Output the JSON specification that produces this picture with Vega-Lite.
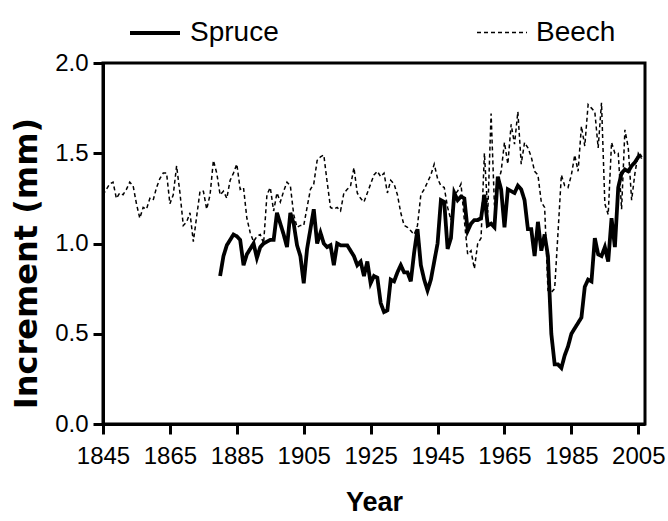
{
"$schema": "https://vega.github.io/schema/vega-lite/v6.json",
"width": 542, "height": 361,
"autosize": "none",
"padding": {"left": 103, "top": 63, "right": 23, "bottom": 97},
"background": "white",
"config": {"view": {"stroke": "black", "strokeWidth": 3}, "font": "Liberation Sans"},
"data": {"values": [
{"year":1845,"species":"Beech","increment":1.27},{"year":1846,"species":"Beech","increment":1.30},{"year":1847,"species":"Beech","increment":1.33},{"year":1848,"species":"Beech","increment":1.34},{"year":1849,"species":"Beech","increment":1.25},{"year":1850,"species":"Beech","increment":1.28},{"year":1851,"species":"Beech","increment":1.27},{"year":1852,"species":"Beech","increment":1.30},{"year":1853,"species":"Beech","increment":1.34},{"year":1854,"species":"Beech","increment":1.32},{"year":1855,"species":"Beech","increment":1.22},{"year":1856,"species":"Beech","increment":1.14},{"year":1857,"species":"Beech","increment":1.20},{"year":1858,"species":"Beech","increment":1.19},{"year":1859,"species":"Beech","increment":1.25},{"year":1860,"species":"Beech","increment":1.24},{"year":1861,"species":"Beech","increment":1.31},{"year":1862,"species":"Beech","increment":1.36},{"year":1863,"species":"Beech","increment":1.39},{"year":1864,"species":"Beech","increment":1.39},{"year":1865,"species":"Beech","increment":1.22},{"year":1866,"species":"Beech","increment":1.27},{"year":1867,"species":"Beech","increment":1.43},{"year":1868,"species":"Beech","increment":1.28},{"year":1869,"species":"Beech","increment":1.10},{"year":1870,"species":"Beech","increment":1.12},{"year":1871,"species":"Beech","increment":1.17},{"year":1872,"species":"Beech","increment":1.01},{"year":1873,"species":"Beech","increment":1.15},{"year":1874,"species":"Beech","increment":1.29},{"year":1875,"species":"Beech","increment":1.29},{"year":1876,"species":"Beech","increment":1.19},{"year":1877,"species":"Beech","increment":1.27},{"year":1878,"species":"Beech","increment":1.46},{"year":1879,"species":"Beech","increment":1.39},{"year":1880,"species":"Beech","increment":1.27},{"year":1881,"species":"Beech","increment":1.29},{"year":1882,"species":"Beech","increment":1.25},{"year":1883,"species":"Beech","increment":1.35},{"year":1884,"species":"Beech","increment":1.39},{"year":1885,"species":"Beech","increment":1.44},{"year":1886,"species":"Beech","increment":1.30},{"year":1887,"species":"Beech","increment":1.31},{"year":1888,"species":"Beech","increment":1.14},{"year":1889,"species":"Beech","increment":1.06},{"year":1890,"species":"Beech","increment":1.01},{"year":1891,"species":"Beech","increment":1.04},{"year":1892,"species":"Beech","increment":1.05},{"year":1893,"species":"Beech","increment":1.00},{"year":1894,"species":"Beech","increment":1.27},{"year":1895,"species":"Beech","increment":1.31},{"year":1896,"species":"Beech","increment":1.18},{"year":1897,"species":"Beech","increment":1.28},{"year":1898,"species":"Beech","increment":1.23},{"year":1899,"species":"Beech","increment":1.29},{"year":1900,"species":"Beech","increment":1.34},{"year":1901,"species":"Beech","increment":1.32},{"year":1902,"species":"Beech","increment":1.16},{"year":1903,"species":"Beech","increment":1.09},{"year":1904,"species":"Beech","increment":1.10},{"year":1905,"species":"Beech","increment":1.10},{"year":1906,"species":"Beech","increment":1.20},{"year":1907,"species":"Beech","increment":1.30},{"year":1908,"species":"Beech","increment":1.33},{"year":1909,"species":"Beech","increment":1.46},{"year":1910,"species":"Beech","increment":1.48},{"year":1911,"species":"Beech","increment":1.49},{"year":1912,"species":"Beech","increment":1.34},{"year":1913,"species":"Beech","increment":1.20},{"year":1914,"species":"Beech","increment":1.19},{"year":1915,"species":"Beech","increment":1.20},{"year":1916,"species":"Beech","increment":1.18},{"year":1917,"species":"Beech","increment":1.28},{"year":1918,"species":"Beech","increment":1.30},{"year":1919,"species":"Beech","increment":1.32},{"year":1920,"species":"Beech","increment":1.42},{"year":1921,"species":"Beech","increment":1.28},{"year":1922,"species":"Beech","increment":1.25},{"year":1923,"species":"Beech","increment":1.23},{"year":1924,"species":"Beech","increment":1.28},{"year":1925,"species":"Beech","increment":1.33},{"year":1926,"species":"Beech","increment":1.38},{"year":1927,"species":"Beech","increment":1.40},{"year":1928,"species":"Beech","increment":1.37},{"year":1929,"species":"Beech","increment":1.39},{"year":1930,"species":"Beech","increment":1.28},{"year":1931,"species":"Beech","increment":1.35},{"year":1932,"species":"Beech","increment":1.33},{"year":1933,"species":"Beech","increment":1.27},{"year":1934,"species":"Beech","increment":1.17},{"year":1935,"species":"Beech","increment":1.10},{"year":1936,"species":"Beech","increment":1.09},{"year":1937,"species":"Beech","increment":1.07},{"year":1938,"species":"Beech","increment":1.05},{"year":1939,"species":"Beech","increment":1.10},{"year":1940,"species":"Beech","increment":1.27},{"year":1941,"species":"Beech","increment":1.30},{"year":1942,"species":"Beech","increment":1.34},{"year":1943,"species":"Beech","increment":1.38},{"year":1944,"species":"Beech","increment":1.44},{"year":1945,"species":"Beech","increment":1.36},{"year":1946,"species":"Beech","increment":1.32},{"year":1947,"species":"Beech","increment":1.31},{"year":1948,"species":"Beech","increment":1.20},{"year":1949,"species":"Beech","increment":1.13},{"year":1950,"species":"Beech","increment":1.27},{"year":1951,"species":"Beech","increment":1.29},{"year":1952,"species":"Beech","increment":1.33},{"year":1953,"species":"Beech","increment":1.13},{"year":1954,"species":"Beech","increment":0.94},{"year":1955,"species":"Beech","increment":0.96},{"year":1956,"species":"Beech","increment":0.86},{"year":1957,"species":"Beech","increment":1.00},{"year":1958,"species":"Beech","increment":1.03},{"year":1959,"species":"Beech","increment":1.50},{"year":1960,"species":"Beech","increment":1.17},{"year":1961,"species":"Beech","increment":1.72},{"year":1962,"species":"Beech","increment":1.21},{"year":1963,"species":"Beech","increment":1.33},{"year":1964,"species":"Beech","increment":1.40},{"year":1965,"species":"Beech","increment":1.56},{"year":1966,"species":"Beech","increment":1.44},{"year":1967,"species":"Beech","increment":1.66},{"year":1968,"species":"Beech","increment":1.55},{"year":1969,"species":"Beech","increment":1.73},{"year":1970,"species":"Beech","increment":1.44},{"year":1971,"species":"Beech","increment":1.56},{"year":1972,"species":"Beech","increment":1.53},{"year":1973,"species":"Beech","increment":1.48},{"year":1974,"species":"Beech","increment":1.40},{"year":1975,"species":"Beech","increment":1.38},{"year":1976,"species":"Beech","increment":1.23},{"year":1977,"species":"Beech","increment":1.20},{"year":1978,"species":"Beech","increment":0.74},{"year":1979,"species":"Beech","increment":0.73},{"year":1980,"species":"Beech","increment":0.75},{"year":1981,"species":"Beech","increment":1.06},{"year":1982,"species":"Beech","increment":1.38},{"year":1983,"species":"Beech","increment":1.32},{"year":1984,"species":"Beech","increment":1.31},{"year":1985,"species":"Beech","increment":1.38},{"year":1986,"species":"Beech","increment":1.49},{"year":1987,"species":"Beech","increment":1.40},{"year":1988,"species":"Beech","increment":1.65},{"year":1989,"species":"Beech","increment":1.54},{"year":1990,"species":"Beech","increment":1.77},{"year":1991,"species":"Beech","increment":1.75},{"year":1992,"species":"Beech","increment":1.73},{"year":1993,"species":"Beech","increment":1.53},{"year":1994,"species":"Beech","increment":1.78},{"year":1995,"species":"Beech","increment":1.22},{"year":1996,"species":"Beech","increment":1.16},{"year":1997,"species":"Beech","increment":1.56},{"year":1998,"species":"Beech","increment":1.50},{"year":1999,"species":"Beech","increment":1.50},{"year":2000,"species":"Beech","increment":1.19},{"year":2001,"species":"Beech","increment":1.63},{"year":2002,"species":"Beech","increment":1.53},{"year":2003,"species":"Beech","increment":1.24},{"year":2004,"species":"Beech","increment":1.39},{"year":2005,"species":"Beech","increment":1.50},{"year":2006,"species":"Beech","increment":1.47},
{"year":1880,"species":"Spruce","increment":0.82},{"year":1881,"species":"Spruce","increment":0.93},{"year":1882,"species":"Spruce","increment":0.99},{"year":1883,"species":"Spruce","increment":1.02},{"year":1884,"species":"Spruce","increment":1.05},{"year":1885,"species":"Spruce","increment":1.04},{"year":1886,"species":"Spruce","increment":1.02},{"year":1887,"species":"Spruce","increment":0.88},{"year":1888,"species":"Spruce","increment":0.94},{"year":1889,"species":"Spruce","increment":0.97},{"year":1890,"species":"Spruce","increment":1.00},{"year":1891,"species":"Spruce","increment":0.92},{"year":1892,"species":"Spruce","increment":0.98},{"year":1893,"species":"Spruce","increment":1.00},{"year":1894,"species":"Spruce","increment":1.01},{"year":1895,"species":"Spruce","increment":1.02},{"year":1896,"species":"Spruce","increment":1.02},{"year":1897,"species":"Spruce","increment":1.17},{"year":1898,"species":"Spruce","increment":1.11},{"year":1899,"species":"Spruce","increment":1.05},{"year":1900,"species":"Spruce","increment":0.98},{"year":1901,"species":"Spruce","increment":1.17},{"year":1902,"species":"Spruce","increment":1.11},{"year":1903,"species":"Spruce","increment":0.99},{"year":1904,"species":"Spruce","increment":0.93},{"year":1905,"species":"Spruce","increment":0.78},{"year":1906,"species":"Spruce","increment":0.97},{"year":1907,"species":"Spruce","increment":1.08},{"year":1908,"species":"Spruce","increment":1.19},{"year":1909,"species":"Spruce","increment":1.00},{"year":1910,"species":"Spruce","increment":1.06},{"year":1911,"species":"Spruce","increment":1.00},{"year":1912,"species":"Spruce","increment":0.98},{"year":1913,"species":"Spruce","increment":0.99},{"year":1914,"species":"Spruce","increment":0.88},{"year":1915,"species":"Spruce","increment":1.00},{"year":1916,"species":"Spruce","increment":0.99},{"year":1917,"species":"Spruce","increment":0.99},{"year":1918,"species":"Spruce","increment":0.99},{"year":1919,"species":"Spruce","increment":0.96},{"year":1920,"species":"Spruce","increment":0.93},{"year":1921,"species":"Spruce","increment":0.88},{"year":1922,"species":"Spruce","increment":0.90},{"year":1923,"species":"Spruce","increment":0.82},{"year":1924,"species":"Spruce","increment":0.90},{"year":1925,"species":"Spruce","increment":0.78},{"year":1926,"species":"Spruce","increment":0.82},{"year":1927,"species":"Spruce","increment":0.81},{"year":1928,"species":"Spruce","increment":0.67},{"year":1929,"species":"Spruce","increment":0.62},{"year":1930,"species":"Spruce","increment":0.63},{"year":1931,"species":"Spruce","increment":0.80},{"year":1932,"species":"Spruce","increment":0.79},{"year":1933,"species":"Spruce","increment":0.84},{"year":1934,"species":"Spruce","increment":0.88},{"year":1935,"species":"Spruce","increment":0.84},{"year":1936,"species":"Spruce","increment":0.84},{"year":1937,"species":"Spruce","increment":0.79},{"year":1938,"species":"Spruce","increment":0.95},{"year":1939,"species":"Spruce","increment":1.08},{"year":1940,"species":"Spruce","increment":0.88},{"year":1941,"species":"Spruce","increment":0.80},{"year":1942,"species":"Spruce","increment":0.74},{"year":1943,"species":"Spruce","increment":0.80},{"year":1944,"species":"Spruce","increment":0.90},{"year":1945,"species":"Spruce","increment":1.00},{"year":1946,"species":"Spruce","increment":1.24},{"year":1947,"species":"Spruce","increment":1.23},{"year":1948,"species":"Spruce","increment":0.97},{"year":1949,"species":"Spruce","increment":1.03},{"year":1950,"species":"Spruce","increment":1.28},{"year":1951,"species":"Spruce","increment":1.24},{"year":1952,"species":"Spruce","increment":1.26},{"year":1953,"species":"Spruce","increment":1.25},{"year":1954,"species":"Spruce","increment":1.07},{"year":1955,"species":"Spruce","increment":1.11},{"year":1956,"species":"Spruce","increment":1.13},{"year":1957,"species":"Spruce","increment":1.13},{"year":1958,"species":"Spruce","increment":1.14},{"year":1959,"species":"Spruce","increment":1.27},{"year":1960,"species":"Spruce","increment":1.10},{"year":1961,"species":"Spruce","increment":1.11},{"year":1962,"species":"Spruce","increment":1.09},{"year":1963,"species":"Spruce","increment":1.37},{"year":1964,"species":"Spruce","increment":1.30},{"year":1965,"species":"Spruce","increment":1.09},{"year":1966,"species":"Spruce","increment":1.30},{"year":1967,"species":"Spruce","increment":1.29},{"year":1968,"species":"Spruce","increment":1.28},{"year":1969,"species":"Spruce","increment":1.32},{"year":1970,"species":"Spruce","increment":1.30},{"year":1971,"species":"Spruce","increment":1.24},{"year":1972,"species":"Spruce","increment":1.08},{"year":1973,"species":"Spruce","increment":1.08},{"year":1974,"species":"Spruce","increment":0.93},{"year":1975,"species":"Spruce","increment":1.12},{"year":1976,"species":"Spruce","increment":0.96},{"year":1977,"species":"Spruce","increment":1.05},{"year":1978,"species":"Spruce","increment":0.93},{"year":1979,"species":"Spruce","increment":0.50},{"year":1980,"species":"Spruce","increment":0.33},{"year":1981,"species":"Spruce","increment":0.33},{"year":1982,"species":"Spruce","increment":0.31},{"year":1983,"species":"Spruce","increment":0.38},{"year":1984,"species":"Spruce","increment":0.43},{"year":1985,"species":"Spruce","increment":0.50},{"year":1986,"species":"Spruce","increment":0.53},{"year":1987,"species":"Spruce","increment":0.56},{"year":1988,"species":"Spruce","increment":0.59},{"year":1989,"species":"Spruce","increment":0.76},{"year":1990,"species":"Spruce","increment":0.80},{"year":1991,"species":"Spruce","increment":0.79},{"year":1992,"species":"Spruce","increment":1.03},{"year":1993,"species":"Spruce","increment":0.94},{"year":1994,"species":"Spruce","increment":0.93},{"year":1995,"species":"Spruce","increment":0.98},{"year":1996,"species":"Spruce","increment":0.90},{"year":1997,"species":"Spruce","increment":1.14},{"year":1998,"species":"Spruce","increment":0.98},{"year":1999,"species":"Spruce","increment":1.31},{"year":2000,"species":"Spruce","increment":1.39},{"year":2001,"species":"Spruce","increment":1.41},{"year":2002,"species":"Spruce","increment":1.40},{"year":2003,"species":"Spruce","increment":1.43},{"year":2004,"species":"Spruce","increment":1.45},{"year":2005,"species":"Spruce","increment":1.48},{"year":2006,"species":"Spruce","increment":1.49}
]},
"mark": {"type": "line", "color": "black"},
"encoding": {
"x": {"field": "year", "type": "quantitative",
  "scale": {"domain": [1845, 2007], "nice": false, "zero": false},
  "axis": {"values": [1845,1865,1885,1905,1925,1945,1965,1985,2005], "format": "d", "grid": false, "labelOverlap": false, "labelBound": false, "labelFlush": false,
    "domainColor": "black", "domainWidth": 3, "tickColor": "black", "tickWidth": 3, "tickSize": 10,
    "labelFontSize": 24, "labelColor": "black", "labelPadding": 10, "labelFont": "Liberation Sans",
    "title": "Year", "titleFont": "Liberation Sans", "titleFontSize": 27, "titleFontWeight": "bold", "titleColor": "black", "titlePadding": 21}},
"y": {"field": "increment", "type": "quantitative",
  "scale": {"domain": [0, 2], "nice": false},
  "axis": {"values": [0,0.5,1,1.5,2], "format": ".1f", "grid": false, "labelOverlap": false, "labelFlush": false,
    "domainColor": "black", "domainWidth": 3, "tickColor": "black", "tickWidth": 3, "tickSize": 10,
    "labelFontSize": 24, "labelColor": "black", "labelPadding": 5, "labelFont": "Liberation Sans",
    "title": "Increment (mm)", "titleFont": "DejaVu Sans", "titleFontSize": 32, "titleFontWeight": "bold", "titleColor": "black", "titlePadding": 11, "titleY": 200}},
"strokeDash": {"field": "species", "type": "nominal",
  "scale": {"domain": ["Spruce", "Beech"], "range": [[1, 0], [4, 3]]},
  "legend": {"title": null, "orient": "none", "legendX": 25, "legendY": -57, "direction": "horizontal",
    "symbolType": "stroke", "symbolSize": 2500, "symbolStrokeColor": "black",
    "labelFontSize": 28, "labelFont": "Liberation Sans", "labelColor": "black", "labelOffset": 8,
    "columnPadding": 195, "padding": 0}},
"strokeWidth": {"field": "species", "type": "nominal",
  "scale": {"domain": ["Spruce", "Beech"], "range": [3.8, 1.5]},
  "legend": {"title": null, "orient": "none", "legendX": 25, "legendY": -57, "direction": "horizontal",
    "symbolType": "stroke", "symbolSize": 2500, "symbolStrokeColor": "black",
    "labelFontSize": 28, "labelFont": "Liberation Sans", "labelColor": "black", "labelOffset": 8,
    "columnPadding": 195, "padding": 0}}
}
}
